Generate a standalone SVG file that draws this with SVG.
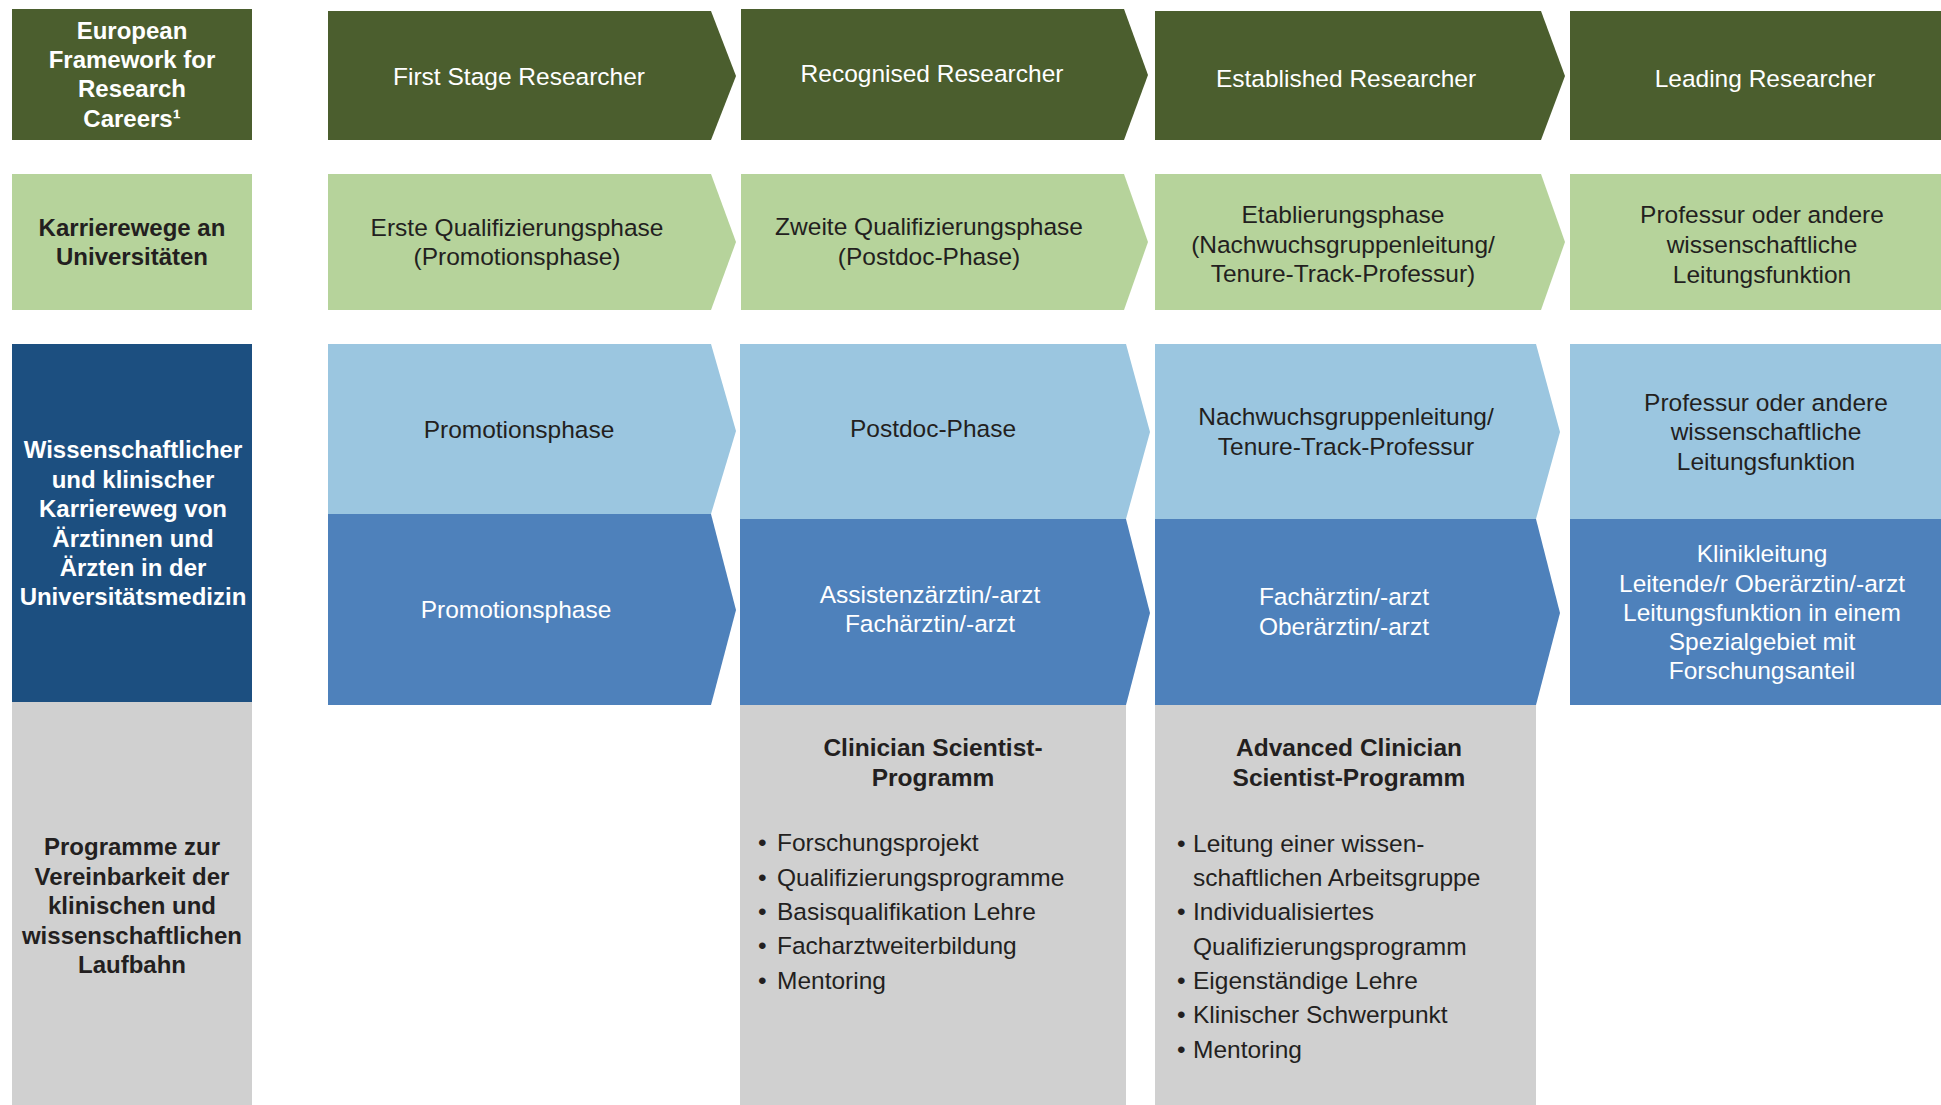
<svg xmlns="http://www.w3.org/2000/svg" width="1941" height="1105" viewBox="0 0 1941 1105">
  <style>
    text { font-family: "Liberation Sans", Arial, Helvetica, sans-serif; font-size: 24.5px; text-anchor: middle; }
    .b { font-weight: bold; }
    .lbl { font-weight: bold; font-size: 24px; }
    .w { fill: #ffffff; }
    .d { fill: #231f20; }
    .li { text-anchor: start; }
    .g1 { fill: #4b5e2e; }
    .g2 { fill: #b6d39b; }
    .navy { fill: #1c4f80; }
    .lb { fill: #9bc6e0; }
    .mb { fill: #4e81bb; }
    .gr { fill: #d0d0d0; }
  </style>

  <!-- Row labels (left column) -->
  <g id="label-efrc">
    <rect class="g1" x="12" y="9" width="240" height="131"/>
    <text class="lbl w" x="132" y="39">European</text>
    <text class="lbl w" x="132" y="68">Framework for</text>
    <text class="lbl w" x="132" y="97">Research</text>
    <text class="lbl w" x="132" y="127">Careers¹</text>
  </g>
  <g id="label-uni">
    <rect class="g2" x="12" y="174" width="240" height="136"/>
    <text class="lbl d" x="132" y="236">Karrierewege an</text>
    <text class="lbl d" x="132" y="265">Universitäten</text>
  </g>
  <g id="label-med">
    <rect class="navy" x="12" y="344" width="240" height="358"/>
    <text class="lbl w" x="133" y="458">Wissenschaftlicher</text>
    <text class="lbl w" x="133" y="488">und klinischer</text>
    <text class="lbl w" x="133" y="517">Karriereweg von</text>
    <text class="lbl w" x="133" y="547">Ärztinnen und</text>
    <text class="lbl w" x="133" y="576">Ärzten in der</text>
    <text class="lbl w" x="133" y="605">Universitätsmedizin</text>
  </g>
  <g id="label-prog">
    <rect class="gr" x="12" y="702" width="240" height="403"/>
    <text class="lbl d" x="132" y="855">Programme zur</text>
    <text class="lbl d" x="132" y="885">Vereinbarkeit der</text>
    <text class="lbl d" x="132" y="914">klinischen und</text>
    <text class="lbl d" x="132" y="944">wissenschaftlichen</text>
    <text class="lbl d" x="132" y="973">Laufbahn</text>
  </g>

  <!-- Row 1: European framework stages -->
  <g id="efrc-r1">
    <polygon class="g1" points="328,11 711,11 736,76 711,140 328,140"/>
    <text class="w" x="519" y="85">First Stage Researcher</text>
  </g>
  <g id="efrc-r2">
    <polygon class="g1" points="741,9 1124,9 1148,75 1124,140 741,140"/>
    <text class="w" x="932" y="82">Recognised Researcher</text>
  </g>
  <g id="efrc-r3">
    <polygon class="g1" points="1155,11 1541,11 1565,76 1541,140 1155,140"/>
    <text class="w" x="1346" y="87">Established Researcher</text>
  </g>
  <g id="efrc-r4">
    <rect class="g1" x="1570" y="11" width="371" height="129"/>
    <text class="w" x="1765" y="87">Leading Researcher</text>
  </g>

  <!-- Row 2: university career paths -->
  <g id="uni-1">
    <polygon class="g2" points="328,174 711,174 736,242 711,310 328,310"/>
    <text class="d" x="517" y="236">Erste Qualifizierungsphase</text>
    <text class="d" x="517" y="265">(Promotionsphase)</text>
  </g>
  <g id="uni-2">
    <polygon class="g2" points="741,174 1124,174 1148,242 1124,310 741,310"/>
    <text class="d" x="929" y="235">Zweite Qualifizierungsphase</text>
    <text class="d" x="929" y="265">(Postdoc-Phase)</text>
  </g>
  <g id="uni-3">
    <polygon class="g2" points="1155,174 1541,174 1565,242 1541,310 1155,310"/>
    <text class="d" x="1343" y="223">Etablierungsphase</text>
    <text class="d" x="1343" y="253">(Nachwuchsgruppenleitung/</text>
    <text class="d" x="1343" y="282">Tenure-Track-Professur)</text>
  </g>
  <g id="uni-4">
    <rect class="g2" x="1570" y="174" width="371" height="136"/>
    <text class="d" x="1762" y="223">Professur oder andere</text>
    <text class="d" x="1762" y="253">wissenschaftliche</text>
    <text class="d" x="1762" y="283">Leitungsfunktion</text>
  </g>

  <!-- Row 3: scientific track (light) and clinical track (dark) -->
  <g id="med-1">
    <polygon class="lb" points="328,344 711,344 736,431 711,514 328,514"/>
    <polygon class="mb" points="328,514 711,514 736,610 711,705 328,705"/>
    <text class="d" x="519" y="438">Promotionsphase</text>
    <text class="w" x="516" y="618">Promotionsphase</text>
  </g>
  <g id="med-2">
    <polygon class="lb" points="740,344 1126,344 1150,432 1126,519 740,519"/>
    <polygon class="mb" points="740,519 1126,519 1150,613 1126,705 740,705"/>
    <text class="d" x="933" y="437">Postdoc-Phase</text>
    <text class="w" x="930" y="603">Assistenzärztin/-arzt</text>
    <text class="w" x="930" y="632">Fachärztin/-arzt</text>
  </g>
  <g id="med-3">
    <polygon class="lb" points="1155,344 1536,344 1560,432 1536,519 1155,519"/>
    <polygon class="mb" points="1155,519 1536,519 1560,613 1536,705 1155,705"/>
    <text class="d" x="1346" y="425">Nachwuchsgruppenleitung/</text>
    <text class="d" x="1346" y="455">Tenure-Track-Professur</text>
    <text class="w" x="1344" y="605">Fachärztin/-arzt</text>
    <text class="w" x="1344" y="635">Oberärztin/-arzt</text>
  </g>
  <g id="med-4">
    <rect class="lb" x="1570" y="344" width="371" height="175"/>
    <rect class="mb" x="1570" y="519" width="371" height="186"/>
    <text class="d" x="1766" y="411">Professur oder andere</text>
    <text class="d" x="1766" y="440">wissenschaftliche</text>
    <text class="d" x="1766" y="470">Leitungsfunktion</text>
    <text class="w" x="1762" y="562">Klinikleitung</text>
    <text class="w" x="1762" y="592">Leitende/r Oberärztin/-arzt</text>
    <text class="w" x="1762" y="621">Leitungsfunktion in einem</text>
    <text class="w" x="1762" y="650">Spezialgebiet mit</text>
    <text class="w" x="1762" y="679">Forschungsanteil</text>
  </g>

  <!-- Row 4: programmes -->
  <g id="prog-cs">
    <rect class="gr" x="740" y="705" width="386" height="400"/>
    <text class="b d" x="933" y="756">Clinician Scientist-</text>
    <text class="b d" x="933" y="786">Programm</text>
    <text class="d li" x="758" y="851">•</text>
    <text class="d li" x="777" y="851">Forschungsprojekt</text>
    <text class="d li" x="758" y="885.5">•</text>
    <text class="d li" x="777" y="885.5">Qualifizierungsprogramme</text>
    <text class="d li" x="758" y="920">•</text>
    <text class="d li" x="777" y="920">Basisqualifikation Lehre</text>
    <text class="d li" x="758" y="954">•</text>
    <text class="d li" x="777" y="954">Facharztweiterbildung</text>
    <text class="d li" x="758" y="988.5">•</text>
    <text class="d li" x="777" y="988.5">Mentoring</text>
  </g>
  <g id="prog-acs">
    <rect class="gr" x="1155" y="705" width="381" height="400"/>
    <text class="b d" x="1349" y="756">Advanced Clinician</text>
    <text class="b d" x="1349" y="786">Scientist-Programm</text>
    <text class="d li" x="1177" y="851.5">•</text>
    <text class="d li" x="1193" y="851.5">Leitung einer wissen-</text>
    <text class="d li" x="1193" y="885.5">schaftlichen Arbeitsgruppe</text>
    <text class="d li" x="1177" y="920">•</text>
    <text class="d li" x="1193" y="920">Individualisiertes</text>
    <text class="d li" x="1193" y="955">Qualifizierungsprogramm</text>
    <text class="d li" x="1177" y="989">•</text>
    <text class="d li" x="1193" y="989">Eigenständige Lehre</text>
    <text class="d li" x="1177" y="1023">•</text>
    <text class="d li" x="1193" y="1023">Klinischer Schwerpunkt</text>
    <text class="d li" x="1177" y="1058">•</text>
    <text class="d li" x="1193" y="1058">Mentoring</text>
  </g>
</svg>
